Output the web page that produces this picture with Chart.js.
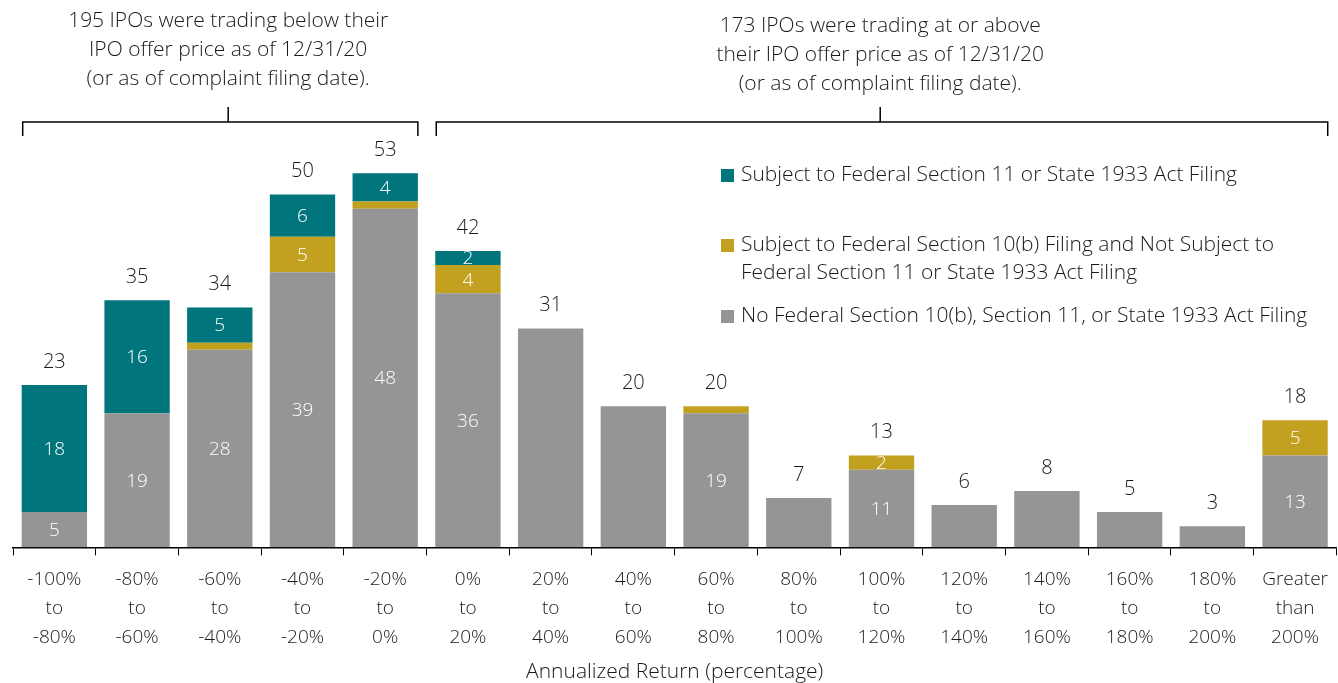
<!DOCTYPE html>
<html>
<head>
<meta charset="utf-8">
<script src="https://cdn.jsdelivr.net/npm/chart.js@4.4.1/dist/chart.umd.min.js"></script>
<style>
  html, body { margin: 0; padding: 0; background: #fff; }
  #wrap { width: 1338px; height: 683px; position: relative; }
</style>
</head>
<body>
<div id="wrap"><canvas id="ipoChart"></canvas></div>
<script>
// categories (x axis, multi-line)
const categories = [
  ['-100%', 'to', '-80%'], ['-80%', 'to', '-60%'], ['-60%', 'to', '-40%'], ['-40%', 'to', '-20%'],
  ['-20%', 'to', '0%'], ['0%', 'to', '20%'], ['20%', 'to', '40%'], ['40%', 'to', '60%'],
  ['60%', 'to', '80%'], ['80%', 'to', '100%'], ['100%', 'to', '120%'], ['120%', 'to', '140%'],
  ['140%', 'to', '160%'], ['160%', 'to', '180%'], ['180%', 'to', '200%'], ['Greater', 'than', '200%']
];
// series
const noFiling   = [5, 19, 28, 39, 48, 36, 31, 20, 19, 7, 11, 6, 8, 5, 3, 13];
const section10b = [0, 0, 1, 5, 1, 4, 0, 0, 1, 0, 2, 0, 0, 0, 0, 5];
const section11  = [18, 16, 5, 6, 4, 2, 0, 0, 0, 0, 0, 0, 0, 0, 0, 0];

const legendLabels = [
  ['Subject to Federal Section 11 or State 1933 Act Filing'],
  ['Subject to Federal Section 10(b) Filing and Not Subject to', 'Federal Section 11 or State 1933 Act Filing'],
  ['No Federal Section 10(b), Section 11, or State 1933 Act Filing']
];
const leftNote  = ['195 IPOs were trading below their', 'IPO offer price as of 12/31/20', '(or as of complaint filing date).'];
const rightNote = ['173 IPOs were trading at or above', 'their IPO offer price as of 12/31/20', '(or as of complaint filing date).'];

const TEAL = '#00757c', GOLD = '#c2a020', GRAY = '#959595';
const FONT = '"Open Sans", Lato, sans-serif';
const TXT = '#1a1a1a';

// segment values, bar totals, legend, brackets
const annotations = {
  id: 'annotations',
  afterDatasetsDraw(chart) {
    const ctx = chart.ctx;
    const x = chart.scales.x;
    ctx.save();
    ctx.textAlign = 'center';
    ctx.textBaseline = 'middle';

    // values inside segments (only bars with more than one segment)
    ctx.font = '300 19px ' + FONT;
    ctx.fillStyle = '#ffffff';
    chart.data.datasets.forEach((ds, di) => {
      chart.getDatasetMeta(di).data.forEach((bar, i) => {
        const v = ds.data[i];
        const parts = [noFiling[i], section10b[i], section11[i]].filter(n => n > 0).length;
        if (v < 2 || parts < 2) return;
        ctx.fillText(String(v), bar.x, (bar.y + bar.base) / 2 + 1);
      });
    });

    // totals above bars
    ctx.font = '300 20px ' + FONT;
    ctx.fillStyle = TXT;
    const top = chart.getDatasetMeta(2).data;
    categories.forEach((c, i) => {
      const total = noFiling[i] + section10b[i] + section11[i];
      const yTop = Math.min(...[0, 1, 2].map(d => chart.getDatasetMeta(d).data[i].y));
      ctx.fillText(String(total), top[i].x, yTop - 23);
    });

    // brackets
    ctx.font = '300 21px ' + FONT;
    const half = chart.getDatasetMeta(0).data[0].width / 2;
    const drawBracket = (from, to, frac, lines, textTop) => {
      const x0 = x.getPixelForValue(from) - half + 1;
      const x1 = x.getPixelForValue(to) + half;
      const mid = x0 + (x1 - x0) * frac;
      ctx.strokeStyle = '#000';
      ctx.lineWidth = 1.5;
      ctx.beginPath();
      ctx.moveTo(x0, 136); ctx.lineTo(x0, 122); ctx.lineTo(x1, 122); ctx.lineTo(x1, 136);
      ctx.moveTo(mid, 122); ctx.lineTo(mid, 107);
      ctx.stroke();
      ctx.fillStyle = TXT;
      lines.forEach((t, k) => ctx.fillText(t, mid, textTop + k * 29));
    };
    drawBracket(0, 4, 0.52, leftNote, 21);
    drawBracket(5, 15, 0.498, rightNote, 26);

    // legend
    const colors = [TEAL, GOLD, GRAY];
    const rows = [175, 245, 316];
    ctx.textAlign = 'left';
    legendLabels.forEach((lines, k) => {
      ctx.fillStyle = colors[k];
      ctx.fillRect(721, rows[k] - 6, 13, 13);
      ctx.fillStyle = TXT;
      lines.forEach((t, j) => ctx.fillText(t, 741, rows[k] + j * 28));
    });
    ctx.restore();
  }
};

new Chart(document.getElementById('ipoChart'), {
  type: 'bar',
  data: {
    labels: categories,
    datasets: [
      { label: legendLabels[2].join(' '), data: noFiling, backgroundColor: GRAY },
      { label: legendLabels[1].join(' '), data: section10b, backgroundColor: GOLD },
      { label: legendLabels[0].join(' '), data: section11, backgroundColor: TEAL }
    ]
  },
  options: {
    responsive: true,
    maintainAspectRatio: false,
    animation: false,
    layout: { padding: { left: 13, right: 1, top: 131, bottom: 0 } },
    datasets: { bar: { barPercentage: 0.79, categoryPercentage: 1 } },
    plugins: { legend: { display: false }, tooltip: { enabled: false } },
    scales: {
      x: {
        stacked: true,
        grid: { display: true, drawOnChartArea: false, drawTicks: true, tickLength: 8, color: '#000', offset: true },
        border: { display: true, color: '#000', width: 1.5 },
        ticks: { color: TXT, font: { family: FONT, size: 19, weight: 300, lineHeight: 1.52 }, padding: 10, maxRotation: 0, autoSkip: false },
        title: { display: true, text: 'Annualized Return (percentage)', color: TXT, font: { family: FONT, size: 21, weight: 300, lineHeight: 1 }, padding: { top: 0, bottom: 0 } }
      },
      y: { stacked: true, display: false, min: 0, max: 59 }
    }
  },
  plugins: [annotations]
});
</script>
</body>
</html>
